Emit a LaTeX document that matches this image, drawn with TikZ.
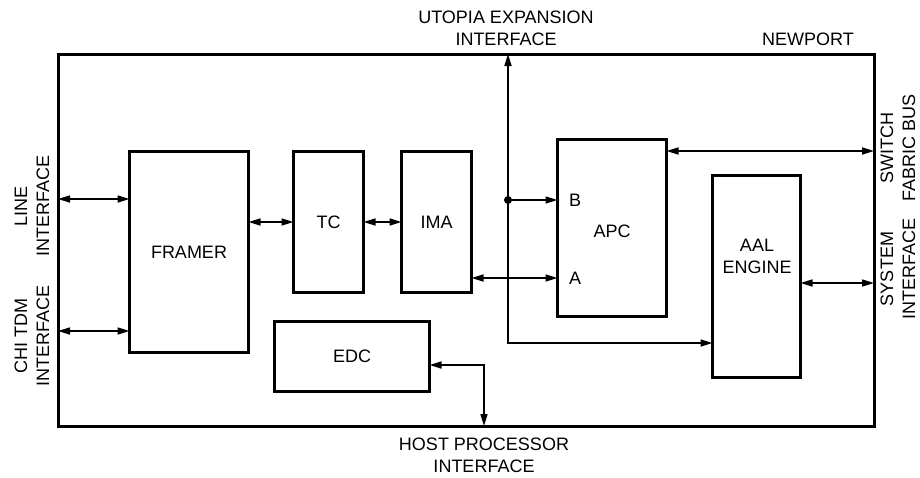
\documentclass[tikz,border=0pt]{standalone}
\usepackage{fontspec}
\setmainfont{Liberation Sans}
\usetikzlibrary{arrows.meta}

\begin{document}
\begin{tikzpicture}[x=1pt, y=-1pt,
  font=\fontsize{18}{22}\selectfont,
  >={Triangle[length=12pt,width=7pt]},
  block/.style={draw, line width=3pt, inner sep=0pt, outer sep=0pt},
  link/.style={line width=1.6pt},
  tag/.style={align=center, inner sep=0pt}]
\useasboundingbox (0,0) rectangle (920,477);

% Chip outline
\node[block, minimum width=816pt, minimum height=372pt] (newport) at (466,240) {};
\node[tag] (chipname) at (808,39) {NEWPORT};

% Function blocks
\node[block, minimum width=119pt, minimum height=201pt] (framer) at (189,252) {FRAMER};
\node[block, minimum width=70pt, minimum height=141pt] (tc) at (328.5,222) {TC};
\node[block, minimum width=70pt, minimum height=141pt] (ima) at (436.5,222) {IMA};
\node[block, minimum width=109pt, minimum height=177pt] (apc) at (612,228) {};
\node[tag] (apcname) at (612,231) {APC};
\node[tag] (portb) at (575,200) {B};
\node[tag] (porta) at (575,278) {A};
\node[block, minimum width=88pt, minimum height=202pt] (aal) at (756.5,276.5) {};
\node[tag] (aalname) at (757,256) {AAL\\ENGINE};
\node[block, minimum width=155pt, minimum height=70pt] (edc) at (352,356.5) {EDC};

% Interface names
\node[tag, rotate=90] (lineif) at (32,206) {LINE\\INTERFACE};
\node[tag, rotate=90] (chiif) at (32,336) {CHI TDM\\INTERFACE};
\node[tag, rotate=90] (switchif) at (898,148) {SWITCH\\FABRIC BUS};
\node[tag, rotate=90] (sysif) at (898,269) {SYSTEM\\INTERFACE};
\node[tag] (utopiaif) at (506,28) {UTOPIA EXPANSION\\INTERFACE};
\node[tag] (hostif) at (484,455) {HOST PROCESSOR\\INTERFACE};

% Connections
\coordinate (tap) at (508,200);
\draw[link, <->] (newport.west |- 0,199) -- (framer.west |- 0,199);
\draw[link, <->] (newport.west |- 0,331) -- (framer.west |- 0,331);
\draw[link, <->] (framer.east |- tc.west) -- (tc.west);
\draw[link, <->] (tc.east) -- (ima.west);
\draw[link, <->] (ima.east |- porta) -- (apc.west |- porta);
\draw[link, <->] (newport.north -| tap) |- (aal.west |- 0,343);
\fill (tap) circle (4pt);
\draw[link, ->] (tap) -- (apc.west |- tap);
\draw[link, <->] (apc.east |- 0,151) -- (newport.east |- 0,151);
\draw[link, <->] (aal.east |- 0,283) -- (newport.east |- 0,283);
\draw[link, <->] (edc.east |- 0,365) -| (newport.south -| hostif);
\end{tikzpicture}
\end{document}
